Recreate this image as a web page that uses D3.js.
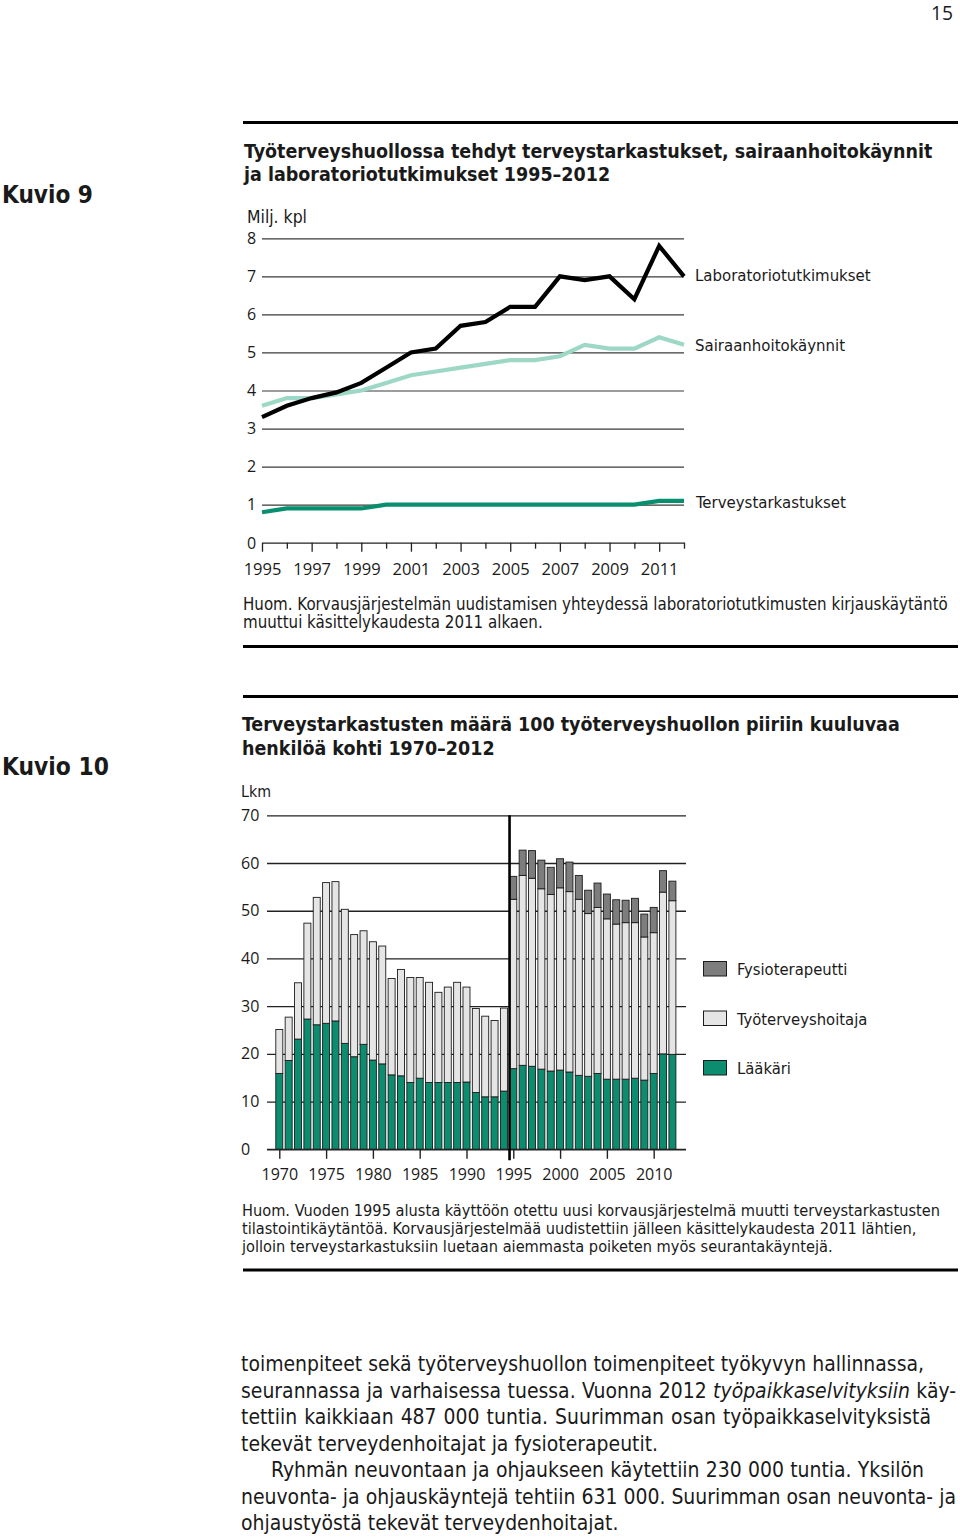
<!DOCTYPE html>
<html><head><meta charset="utf-8">
<script src="https://cdn.jsdelivr.net/npm/d3@7"></script>
<style>html,body{margin:0;padding:0;background:#fff}svg{display:block}</style>
</head><body>
<svg id="page" width="960" height="1539"></svg>
<script>
// ---------- DATA ----------
// Kuvio 9 (millions)
const years1 = [1995,1996,1997,1998,1999,2000,2001,2002,2003,2004,2005,2006,2007,2008,2009,2010,2011,2012];
const laboratorio = [3.3,3.6,3.8,3.95,4.2,4.6,5.0,5.1,5.7,5.8,6.2,6.2,7.0,6.9,7.0,6.4,7.8,7.0];
const sairaanhoito = [3.6,3.8,3.8,3.9,4.0,4.2,4.4,4.5,4.6,4.7,4.8,4.8,4.9,5.2,5.1,5.1,5.4,5.2];
const terveystarkastukset = [0.8,0.9,0.9,0.9,0.9,1.0,1.0,1.0,1.0,1.0,1.0,1.0,1.0,1.0,1.0,1.0,1.1,1.1];
const yTicks1 = [0,1,2,3,4,5,6,7,8];
const xLabelYears1 = [1995,1997,1999,2001,2003,2005,2007,2009,2011];
const xMinorYears1 = [1996,1998,2000,2002,2004,2006,2008,2010,2012];

// Kuvio 10 (per 100 persons)
const years2 = [1970,1971,1972,1973,1974,1975,1976,1977,1978,1979,1980,1981,1982,1983,1984,1985,1986,1987,1988,1989,1990,1991,1992,1993,1994,1995,1996,1997,1998,1999,2000,2001,2002,2003,2004,2005,2006,2007,2008,2009,2010,2011,2012];
const laakari = [15.9,18.6,23.1,27.3,26.1,26.4,26.9,22.2,19.4,22.0,18.7,17.9,15.6,15.4,14.0,14.9,14.0,14.0,14.0,14.0,14.1,11.9,11.0,11.0,12.2,16.9,17.6,17.4,16.8,16.4,16.6,16.2,15.5,15.3,15.9,14.7,14.7,14.7,14.9,14.5,15.9,20.0,19.9];
const hoitaja = [9.2,9.1,11.8,20.1,26.7,29.5,29.2,28.1,25.6,23.8,24.8,24.7,20.2,22.3,22.0,21.1,21.0,18.9,20.0,21.0,19.9,17.6,16.9,16.0,17.4,35.5,39.8,39.4,37.8,37.0,38.2,37.8,36.9,34.1,34.8,33.6,32.5,32.8,32.6,30.0,29.5,33.9,32.2];
const fysio = [0,0,0,0,0,0,0,0,0,0,0,0,0,0,0,0,0,0,0,0,0,0,0,0,0,4.8,5.3,5.8,6.0,5.7,6.1,6.2,5.0,4.9,5.1,5.2,5.1,4.7,5.1,4.8,5.3,4.5,4.1];
const yTicks2 = [0,10,20,30,40,50,60,70];
const xLabelYears2 = [1970,1975,1980,1985,1990,1995,2000,2005,2010];
const seriesNames2 = ["Lääkäri","Työterveyshoitaja","Fysioterapeutti"];

// ---------- STYLE ----------
const FONT = "'Liberation Sans Narrow','DejaVu Sans Condensed','Open Sans',sans-serif";
const AXF = "'Open Sans','Noto Sans',sans-serif";
const INK = "#1a1a1a";
const C_LAB = "#000000", C_SAIR = "#9dd8c7", C_TERV = "#078f70";
const C_GREEN = "#0d8d70", C_LIGHT = "#e5e5e5", C_DARK = "#7d7d7d";

const svg = d3.select("#page");
svg.append("rect").attr("width",960).attr("height",1539).attr("fill","#fff");

function label(g, x, y, str, size, opts = {}) {
  return g.append("text").attr("x", x).attr("y", y)
    .attr("font-family", opts.family || FONT).attr("font-size", size)
    .attr("font-weight", opts.weight || "normal").attr("fill", INK)
    .attr("text-anchor", opts.anchor || "start").text(str);
}
// one font size for a group of lines: the largest that keeps every line within its target width
function fitGroup(texts, targets) {
  const s0 = +texts[0].attr("font-size");
  let r = Infinity;
  texts.forEach((t, i) => { r = Math.min(r, targets[i] / t.node().getComputedTextLength()); });
  const s = s0 * r;
  texts.forEach(t => t.attr("font-size", s));
  return s;
}
function fit(t, target) { return fitGroup([t], [target]); }
function rule(y) {
  svg.append("line").attr("x1",243).attr("x2",958).attr("y1",y).attr("y2",y)
    .attr("stroke","#000").attr("stroke-width",3.2);
}

// page number
fit(label(svg, 931, 20, "15", 19, {family: AXF}), 22);

// ================= KUVIO 9 =================
rule(122.5);
fit(label(svg, 2, 203, "Kuvio 9", 28, {weight: "bold"}), 91);
fitGroup([
  label(svg, 244, 158, "Työterveyshuollossa tehdyt terveystarkastukset, sairaanhoitokäynnit", 22, {weight: "bold"}),
  label(svg, 244, 181, "ja laboratoriotutkimukset 1995–2012", 22, {weight: "bold"})
], [689, 374]);
fit(label(svg, 247, 223, "Milj. kpl", 17), 60);

const x1 = d3.scaleLinear().domain([1995, 2012]).range([262, 684]);
const y1 = d3.scaleLinear().domain([0, 8]).range([542.7, 238.3]);

const g1 = svg.append("g");
const yAx1 = g1.append("g").attr("transform", "translate(684,0)")
  .call(d3.axisLeft(y1).tickValues(yTicks1.filter(d => d > 0)).tickSize(422).tickPadding(6).tickFormat(d3.format("d")));
yAx1.select(".domain").remove();
yAx1.selectAll(".tick line").attr("stroke", "#3a3a3a").attr("stroke-width", 1.2);
yAx1.selectAll(".tick text").attr("font-family", AXF).attr("font-size", 16).attr("fill", INK)
  .attr("text-anchor", "start").attr("x", -437);
const xAxMinor = g1.append("g").attr("transform", `translate(0,${y1(0)})`)
  .call(d3.axisBottom(x1).tickValues(xMinorYears1).tickSize(6).tickSizeOuter(0).tickFormat(""));
xAxMinor.select(".domain").remove();
xAxMinor.selectAll(".tick line").attr("stroke", "#222").attr("stroke-width", 1.3);
const xAx1 = g1.append("g").attr("transform", `translate(0,${y1(0)})`)
  .call(d3.axisBottom(x1).tickValues(xLabelYears1).tickSize(9).tickSizeOuter(0).tickPadding(12).tickFormat(d3.format("d")));
xAx1.select(".domain").attr("stroke", "#222").attr("stroke-width", 1.3);
xAx1.selectAll(".tick line").attr("stroke", "#222").attr("stroke-width", 1.3);
xAx1.selectAll(".tick text").attr("font-family", AXF).attr("font-size", 16.5).attr("fill", INK);
label(g1, 247, y1(0) + 6, "0", 16, {family: AXF});

const line1 = d3.line().x((d, i) => x1(years1[i])).y(d => y1(d));
[[terveystarkastukset, C_TERV], [sairaanhoito, C_SAIR], [laboratorio, C_LAB]].forEach(([arr, c]) => {
  g1.append("path").datum(arr).attr("d", line1).attr("fill", "none")
    .attr("stroke", c).attr("stroke-width", 4.2).attr("stroke-linejoin", "miter").attr("stroke-linecap", "butt");
});
fitGroup([
  label(g1, 695, y1(laboratorio[laboratorio.length-1]) + 4.5, "Laboratoriotutkimukset", 17),
  label(g1, 695, y1(sairaanhoito[sairaanhoito.length-1]) + 6, "Sairaanhoitokäynnit", 17),
  label(g1, 696, y1(terveystarkastukset[terveystarkastukset.length-1]) + 7, "Terveystarkastukset", 17)
], [177, 154, 150]);

fitGroup([
  label(svg, 243, 610, "Huom. Korvausjärjestelmän uudistamisen yhteydessä laboratoriotutkimusten kirjauskäytäntö", 17),
  label(svg, 243, 628, "muuttui käsittelykaudesta 2011 alkaen.", 17)
], [705, 328]);
rule(646.5);

// ================= KUVIO 10 =================
rule(696.5);
fit(label(svg, 2, 775, "Kuvio 10", 28, {weight: "bold"}), 107);
fitGroup([
  label(svg, 242, 731, "Terveystarkastusten määrä 100 työterveyshuollon piiriin kuuluvaa", 22, {weight: "bold"}),
  label(svg, 242, 755, "henkilöä kohti 1970–2012", 22, {weight: "bold"})
], [658, 265]);
fit(label(svg, 241, 797, "Lkm", 17), 30);

const x2 = d3.scaleLinear().domain([1970, 2012]).range([279.3, 672.4]);
const y2 = d3.scaleLinear().domain([0, 70]).range([1149.3, 815.3]);
const g2 = svg.append("g");

const yAx2 = g2.append("g").attr("transform", "translate(686,0)")
  .call(d3.axisLeft(y2).tickValues(yTicks2).tickSize(419).tickPadding(7).tickFormat(d3.format("d")));
yAx2.select(".domain").remove();
yAx2.selectAll(".tick line").attr("stroke", "#222").attr("stroke-width", 1.3);
yAx2.selectAll(".tick text").attr("font-family", AXF).attr("font-size", 16).attr("fill", INK)
  .attr("text-anchor", "start").attr("x", -445);

const rows = years2.map((y, i) => ({year: y, "Lääkäri": laakari[i], "Työterveyshoitaja": hoitaja[i], "Fysioterapeutti": fysio[i]}));
const stacked = d3.stack().keys(seriesNames2)(rows);
const colors2 = {"Lääkäri": C_GREEN, "Työterveyshoitaja": C_LIGHT, "Fysioterapeutti": C_DARK};
const bw = 7;
stacked.forEach(s => {
  g2.append("g").selectAll("rect").data(s.filter(d => d[1] - d[0] > 0)).join("rect")
    .attr("x", d => x2(d.data.year) - bw / 2).attr("width", bw)
    .attr("y", d => y2(d[1])).attr("height", d => y2(d[0]) - y2(d[1]))
    .attr("fill", colors2[s.key]).attr("stroke", "#1c1c1c").attr("stroke-width", 0.9);
});

const xAx2 = g2.append("g").attr("transform", `translate(0,${y2(0)})`)
  .call(d3.axisBottom(x2).tickValues(xLabelYears2).tickSize(9.5).tickSizeOuter(0).tickPadding(10).tickFormat(d3.format("d")));
xAx2.select(".domain").remove();
xAx2.selectAll(".tick line").attr("stroke", "#222").attr("stroke-width", 1.4);
xAx2.selectAll(".tick text").attr("font-family", AXF).attr("font-size", 16).attr("fill", INK);
g2.append("line").attr("x1", 267).attr("x2", 686).attr("y1", y2(0)).attr("y2", y2(0))
  .attr("stroke", "#222").attr("stroke-width", 1.3);

g2.append("line").attr("x1", x2(1994.6)).attr("x2", x2(1994.6))
  .attr("y1", y2(70)).attr("y2", y2(0) + 11).attr("stroke", "#000").attr("stroke-width", 2.6);

const legendItems = [["Fysioterapeutti", C_DARK, 112], ["Työterveyshoitaja", C_LIGHT, 132], ["Lääkäri", C_GREEN, 54]];
const legTexts = [], legW = [];
legendItems.forEach(([name, c, w], i) => {
  const yy = 961.5 + i * 49.5;
  g2.append("rect").attr("x", 703.5).attr("y", yy).attr("width", 23).attr("height", 14.5)
    .attr("fill", c).attr("stroke", "#1c1c1c").attr("stroke-width", 1);
  legTexts.push(label(g2, 737, yy + 13.5, name, 17)); legW.push(w);
});
fitGroup(legTexts, legW);

fitGroup([
  label(svg, 242, 1216, "Huom. Vuoden 1995 alusta käyttöön otettu uusi korvausjärjestelmä muutti terveystarkastusten", 17),
  label(svg, 242, 1234, "tilastointikäytäntöä. Korvausjärjestelmää uudistettiin jälleen käsittelykaudesta 2011 lähtien,", 17),
  label(svg, 242, 1252, "jolloin terveystarkastuksiin luetaan aiemmasta poiketen myös seurantakäyntejä.", 17)
], [716, 675, 609]);
rule(1270);

// ================= BODY TEXT =================
const body = [
  {x: 241, y: 1371, w: 683, j: true, parts: [["toimenpiteet sekä työterveyshuollon toimenpiteet työkyvyn hallinnassa,", false]]},
  {x: 241, y: 1397.5, w: 715, j: true, parts: [["seurannassa ja varhaisessa tuessa. Vuonna 2012 ", false], ["työpaikkaselvityksiin", true], [" käy-", false]]},
  {x: 241, y: 1424, w: 690, j: true, parts: [["tettiin kaikkiaan 487 000 tuntia. Suurimman osan työpaikkaselvityksistä", false]]},
  {x: 241, y: 1450.5, w: 415, j: false, parts: [["tekevät terveydenhoitajat ja fysioterapeutit.", false]]},
  {x: 271, y: 1477, w: 653, j: true, parts: [["Ryhmän neuvontaan ja ohjaukseen käytettiin 230 000 tuntia. Yksilön", false]]},
  {x: 241, y: 1503.5, w: 715, j: true, parts: [["neuvonta- ja ohjauskäyntejä tehtiin 631 000. Suurimman osan neuvonta- ja", false]]},
  {x: 241, y: 1530, w: 376, j: false, parts: [["ohjaustyöstä tekevät terveydenhoitajat.", false]]}
];
const bodyTexts = body.map(l => {
  const t = svg.append("text").attr("x", l.x).attr("y", l.y).attr("font-family", FONT)
    .attr("font-size", 21).attr("fill", INK);
  l.parts.forEach(([s, it]) => t.append("tspan").attr("font-style", it ? "italic" : "normal").text(s));
  return t;
});
let bodySize = 99;
body.forEach((l, i) => { if (l.j) bodySize = Math.min(bodySize, 21 * l.w / bodyTexts[i].node().getComputedTextLength()); });
body.forEach((l, i) => {
  const t = bodyTexts[i].attr("font-size", bodySize);
  if (l.j) {
    const w = t.node().getComputedTextLength();
    const n = (l.parts.map(p => p[0]).join("").match(/ /g) || []).length;
    if (n) t.attr("word-spacing", (l.w - w) / n);
  }
});
</script>
</body></html>
